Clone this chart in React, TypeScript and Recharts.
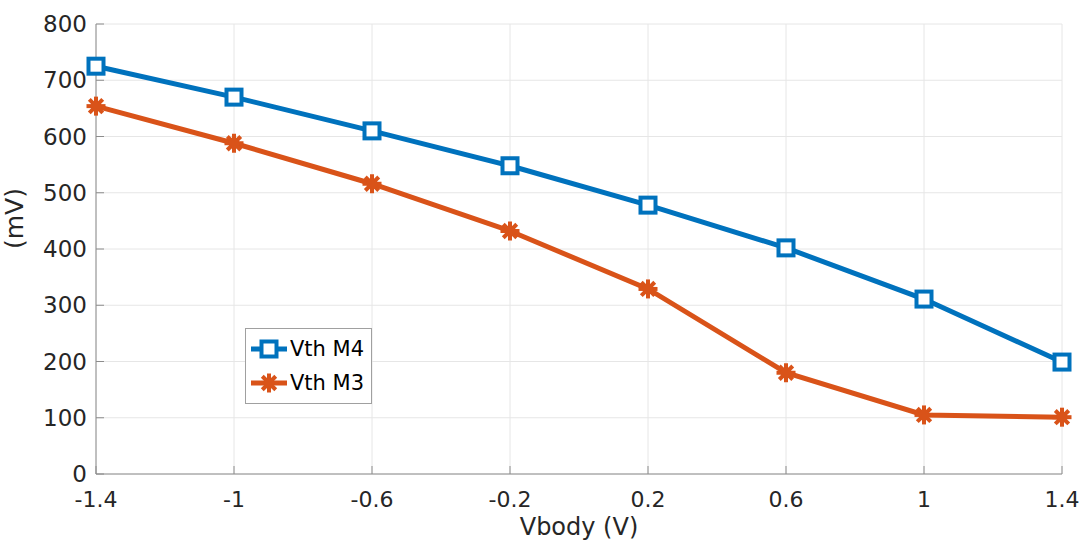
import { CartesianGrid, Line, LineChart, XAxis, YAxis } from "recharts";

const vbody = [-1.4, -1, -0.6, -0.2, 0.2, 0.6, 1, 1.4];
const vthM4 = [725, 670, 610, 548, 478, 402, 311, 199];
const vthM3 = [654, 588, 516, 432, 329, 180, 105, 101];
const xTicks = [-1.4, -1, -0.6, -0.2, 0.2, 0.6, 1, 1.4];
const yTicks = [0, 100, 200, 300, 400, 500, 600, 700, 800];

const BLUE = "#0072BD";
const ORANGE = "#D95319";
const FONT = "DejaVu Sans, sans-serif";

const data = vbody.map((x, i) => ({ x, m4: vthM4[i], m3: vthM3[i] }));

function SquareDot(props: any) {
  const { cx, cy } = props;
  if (cx == null || cy == null) return null;
  return <rect x={cx - 7.5} y={cy - 7.5} width={15} height={15} fill="#fff" stroke={BLUE} strokeWidth={4} />;
}

function StarDot(props: any) {
  const { cx, cy } = props;
  if (cx == null || cy == null) return null;
  const r = 9.5;
  const lines = [0, 45, 90, 135].map((a) => {
    const rad = (a * Math.PI) / 180;
    return (
      <line
        key={a}
        x1={cx - r * Math.cos(rad)}
        y1={cy - r * Math.sin(rad)}
        x2={cx + r * Math.cos(rad)}
        y2={cy + r * Math.sin(rad)}
        stroke={ORANGE}
        strokeWidth={4}
      />
    );
  });
  return (
    <g>
      {lines}
      <circle cx={cx} cy={cy} r={5.5} fill={ORANGE} />
    </g>
  );
}

function LegendBox() {
  const row = (label: string, color: string, star: boolean) => (
    <div style={{ display: "flex", alignItems: "center", height: 34 }}>
      <svg width={40} height={24}>
        <line x1={2} y1={12} x2={38} y2={12} stroke={color} strokeWidth={5} />
        {star ? <StarDot cx={20} cy={12} /> : <SquareDot cx={20} cy={12} />}
      </svg>
      <span style={{ fontFamily: FONT, fontSize: 21, color: "#000", marginLeft: 1 }}>{label}</span>
    </div>
  );
  return (
    <div
      style={{
        position: "absolute",
        left: 245,
        top: 328,
        border: "1px solid #a0a0a0",
        background: "#fff",
        width: 127,
        padding: "3px 0 3px 3px",
        boxSizing: "border-box",
      }}
    >
      {row("Vth M4", BLUE, false)}
      {row("Vth M3", ORANGE, true)}
    </div>
  );
}

export default function App() {
  return (
    <div style={{ position: "absolute", left: 0, top: 0, width: 1082, height: 540, background: "#fff" }}>
      <LineChart width={1082} height={540} data={data} margin={{ top: 24, right: 20, bottom: 0, left: 0 }}>
        <CartesianGrid stroke="#e6e6e6" strokeWidth={1} />
        <XAxis
          dataKey="x"
          type="number"
          domain={[-1.4, 1.4]}
          ticks={xTicks}
          interval={0}
          height={66}
          tickFormatter={(v) => String(v)}
          stroke="#8c8c8c"
          tickSize={-8}
          tickMargin={25}
          tick={{ fill: "#262626", fontSize: 22, fontFamily: FONT }}
          label={{ value: "Vbody (V)", position: "insideBottom", offset: 5, fill: "#262626", fontSize: 24, fontFamily: FONT }}
        />
        <XAxis xAxisId="top" orientation="top" height={0} dataKey="x" type="number" domain={[-1.4, 1.4]} ticks={xTicks} tick={false} tickLine={false} stroke="#8c8c8c" />
        <YAxis
          type="number"
          domain={[0, 800]}
          ticks={yTicks}
          width={96}
          stroke="#8c8c8c"
          tickSize={-8}
          tickMargin={17}
          tick={{ fill: "#262626", fontSize: 23, fontFamily: FONT }}
          label={{ value: "(mV)", angle: -90, position: "insideLeft", offset: 14, fill: "#262626", fontSize: 25, fontFamily: FONT }}
        />
        <YAxis yAxisId="right" orientation="right" width={0} domain={[0, 800]} tick={false} tickLine={false} stroke="#8c8c8c" />
        <Line dataKey="m4" stroke={BLUE} strokeWidth={5} dot={<SquareDot />} activeDot={false} isAnimationActive={false} />
        <Line dataKey="m3" stroke={ORANGE} strokeWidth={5} dot={<StarDot />} activeDot={false} isAnimationActive={false} />
      </LineChart>
      <LegendBox />
    </div>
  );
}
